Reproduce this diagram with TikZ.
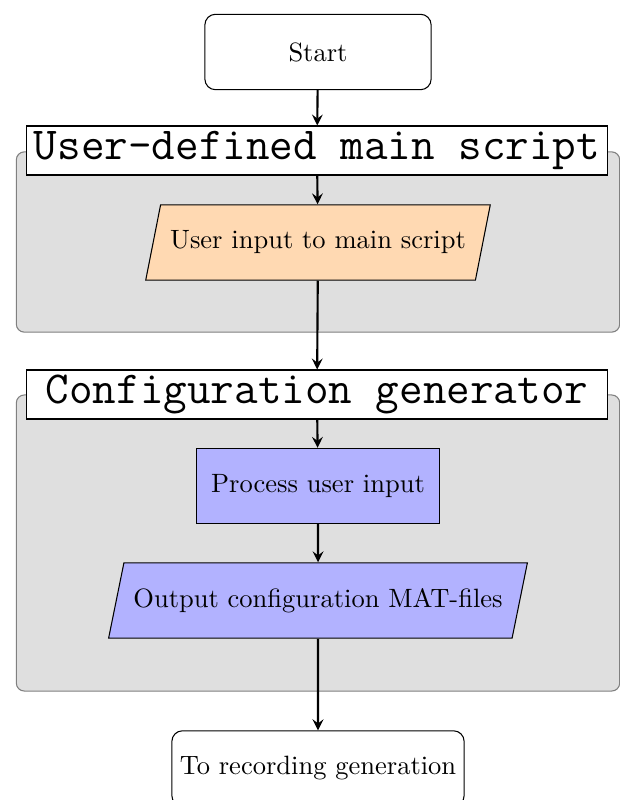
\documentclass[tikz,border=0pt]{standalone}
\usetikzlibrary{shapes.geometric,arrows}
\begin{document}
\begin{tikzpicture}[x=0.01326cm,y=-0.01326cm,
  terminal/.style={draw,rounded corners=4pt,minimum height=1cm,inner xsep=3pt},
  title/.style={draw,fill=white,font=\LARGE\ttfamily,minimum width=219pt,minimum height=18.5pt,inner sep=0.5pt},
  group/.style={draw=gray,fill=gray!25,rounded corners=3pt,minimum width=8cm},
  io/.style={draw,trapezium,trapezium left angle=70,trapezium right angle=110,
    trapezium stretches body,minimum height=1cm},
  process/.style={draw,fill=blue!30,minimum width=92pt,minimum height=1cm},
  flow/.style={thick,-stealth}]
\useasboundingbox (0,0) rectangle (619,800);
% grey panels behind the two stages
\node[group,minimum height=68pt] (mainbg) at (318,242) {};
\node[group,minimum height=111.7pt] (confbg) at (318,543) {};
% start and end
\node[terminal,minimum width=3cm] (start) at (318,52) {Start};
\node[terminal] (rec) at (318,768.5) {To recording generation};
% stage titles
\node[title] (mtitle) at (317,150.5) {User-defined main script};
\node[title] (ctitle) at (317,394.5) {Configuration generator};
% steps
\node[io,fill=orange!30,minimum width=130pt] (uin) at (318,242.5) {User input to main script};
\node[process] (proc) at (318,486) {Process user input};
\node[io,fill=blue!30,minimum width=158pt] (mat) at (318,600.5) {Output configuration MAT-files};
% connectors
\draw[flow] (start) -- (mtitle);
\draw[flow] (mtitle) -- (uin);
\draw[flow] (uin) -- (ctitle);
\draw[flow] (ctitle) -- (proc);
\draw[flow] (proc) -- (mat);
\draw[flow] (mat) -- (rec);
\end{tikzpicture}
\end{document}
